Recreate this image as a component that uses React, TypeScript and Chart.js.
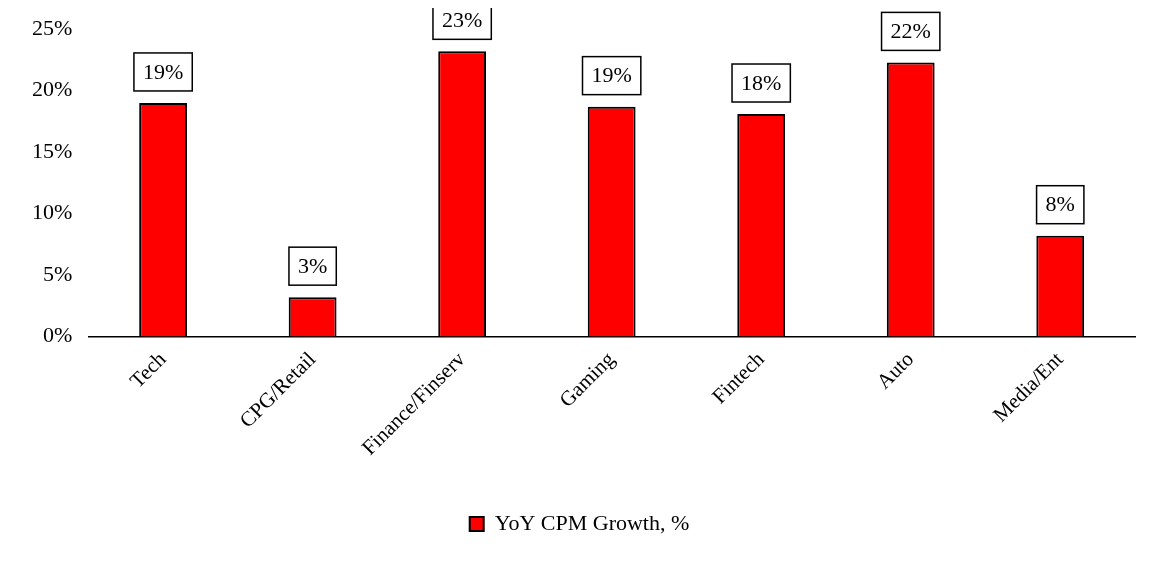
import React, { useEffect, useRef } from "react";
import { Chart, registerables } from "chart.js";
Chart.register(...registerables);

const categories = ["Tech", "CPG/Retail", "Finance/Finserv", "Gaming", "Fintech", "Auto", "Media/Ent"];
const values = [19.0, 3.2, 23.2, 18.7, 18.1, 22.3, 8.2];
const labels = ["19%", "3%", "23%", "19%", "18%", "22%", "8%"];
const seriesName = "YoY CPM Growth, %";
const FONT = "'Liberation Serif', serif";

const boxLabels = {
  id: "boxLabels",
  afterDatasetsDraw(chart: any) {
    const ctx = chart.ctx;
    const meta = chart.getDatasetMeta(0);
    ctx.save();
    ctx.font = `22px ${FONT}`;
    ctx.textAlign = "center";
    ctx.textBaseline = "middle";
    meta.data.forEach((bar: any, i: number) => {
      const t = labels[i];
      const w = ctx.measureText(t).width + 18;
      const h = 38;
      const cx = bar.x;
      const cy = bar.y - 12 - h / 2;
      ctx.fillStyle = "#fff";
      ctx.fillRect(cx - w / 2, cy - h / 2, w, h);
      ctx.strokeStyle = "#000";
      ctx.lineWidth = 1.5;
      ctx.strokeRect(cx - w / 2, cy - h / 2, w, h);
      ctx.fillStyle = "#000";
      ctx.fillText(t, cx, cy + 1);
    });
    ctx.restore();
  },
};

export default function App() {
  const ref = useRef<HTMLCanvasElement>(null);
  useEffect(() => {
    const chart = new Chart(ref.current!, {
      type: "bar",
      data: {
        labels: categories,
        datasets: [{
          label: seriesName,
          data: values,
          backgroundColor: "#ff0000",
          borderColor: "#000",
          borderWidth: 2,
          borderSkipped: "bottom",
          barPercentage: 0.64,
          categoryPercentage: 0.5,
        }],
      },
      options: {
        animation: false,
        responsive: false,
        layout: { padding: { left: 16, right: 20, top: 20, bottom: 10 } },
        scales: {
          y: {
            min: 0, max: 25,
            ticks: { stepSize: 5, callback: (v: any) => v + "%", color: "#000", font: { family: FONT, size: 22 }, padding: 8 },
            grid: { display: false },
            border: { display: false },
          },
          x: {
            afterFit: (s: any) => { s.height += 29; },
            ticks: { color: "#000", font: { family: FONT, size: 21 }, maxRotation: 45, minRotation: 45 },
            grid: { display: false },
            border: { color: "#000", width: 1.5 },
          },
        },
        plugins: {
          tooltip: { enabled: false },
          legend: {
            position: "bottom",
            labels: { color: "#000", font: { family: FONT, size: 22 }, boxWidth: 14, boxHeight: 14, padding: 20 },
          },
        },
      },
      plugins: [boxLabels],
    });
    return () => chart.destroy();
  }, []);
  return <canvas ref={ref} width={1147} height={547} />;
}
